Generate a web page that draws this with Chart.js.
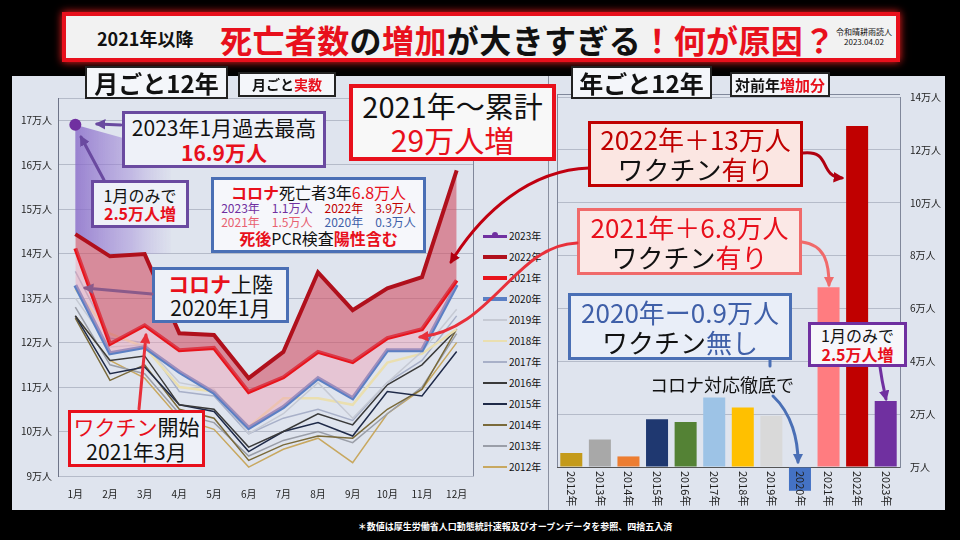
<!DOCTYPE html>
<html>
<head>
<meta charset="utf-8">
<script src="https://cdn.jsdelivr.net/npm/chart.js@4.4.0/dist/chart.umd.min.js"></script>
<style>
body{margin:0;background:#000;}
#wrap{position:relative;width:960px;height:540px;background:#000;overflow:hidden;font-family:"Noto Sans CJK JP","Noto Sans",sans-serif;color:#111;}
#panel{position:absolute;left:12px;top:76px;width:933px;height:434px;background:#dfe4ee;}
#sep{position:absolute;left:548px;top:76px;width:1px;height:434px;background:#8a90a0;}
canvas{position:absolute;}
.box{position:absolute;box-sizing:border-box;display:flex;flex-direction:column;justify-content:center;align-items:center;line-height:1.15;white-space:nowrap;background:#eef1f8;}
.r{color:#e8101c;}
.dr{color:#c00000;}
.bl{color:#3f5fa8;}
.pu{color:#7030a0;}
.b{font-weight:bold;}
#legend{position:absolute;left:483px;top:228px;font-size:10px;width:60px;}
#legend div{position:relative;height:21px;line-height:16px;white-space:nowrap;}
#legend i{position:absolute;left:0;top:8px;width:24px;}
#legend span{position:absolute;left:26px;top:0;white-space:nowrap;}
svg{position:absolute;left:0;top:0;}
</style>
</head>
<body>
<div id="wrap">
  <div id="panel"></div>
  <div id="sep"></div>
  <canvas id="c1" width="468" height="434" style="left:12px;top:76px"></canvas>
  <canvas id="c2" width="397" height="434" style="left:548px;top:76px"></canvas>
  <div id="legend"></div>

  <!-- title -->
  <div class="box" style="left:62px;top:12px;width:838px;height:50px;border:4px solid #e8101c;background:#f2f2f2;box-shadow:0 0 8px #ff2020;"></div>
  <div style="position:absolute;left:97px;top:25px;font-size:18px;font-weight:bold;">2021年以降</div>
  <div style="position:absolute;left:220px;top:16px;font-size:32px;font-weight:bold;letter-spacing:0.4px;"><span class="r">死亡者数</span>の<span class="r">増加</span>が大きすぎる<span class="r">！何が原因？</span></div>
  <div style="position:absolute;left:836px;top:27px;font-size:8px;line-height:10px;text-align:center;">令和晴耕雨読人<br>2023.04.02</div>

  <!-- headings -->
  <div class="box b" style="left:85px;top:66px;width:143px;height:33px;border:2px solid #222;background:#f4f6fa;font-size:24px;">月ごと12年</div>
  <div class="box b" style="left:238px;top:72px;width:98px;height:25px;border:2px solid #222;background:#f4f6fa;font-size:14px;"><span>月ごと<span class="r">実数</span></span></div>
  <div class="box b" style="left:571px;top:66px;width:141px;height:33px;border:2px solid #222;background:#f4f6fa;font-size:24px;">年ごと12年</div>
  <div class="box b" style="left:730px;top:72px;width:100px;height:25px;border:2px solid #222;background:#f4f6fa;font-size:15px;"><span>対前年<span class="r">増加分</span></span></div>

  <!-- left annotations -->
  <div class="box" style="left:122px;top:111px;width:204px;height:57px;border:3px solid #6a4aa0;font-size:21px;">
    <div>2023年1月過去最高</div><div class="r b">16.9万人</div></div>
  <div class="box" style="left:91px;top:180px;width:98px;height:48px;border:3px solid #6a4aa0;font-size:16px;">
    <div>1月のみで</div><div class="r b">2.5万人増</div></div>
  <div class="box" style="left:211px;top:177px;width:215px;height:76px;border:3px solid #4a6fb5;background:#f6f7fb;">
    <div style="font-size:16px;"><span class="r b">コロナ</span>死亡者3年<span class="r">6.8万人</span></div>
    <div style="font-size:12px;"><span class="pu">2023年　1.1万人</span>　<span class="dr">2022年　3.9万人</span></div>
    <div style="font-size:12px;"><span style="color:#e86070">2021年　1.5万人</span>　<span class="bl">2020年　0.3万人</span></div>
    <div style="font-size:16px;"><span class="r b">死後</span>PCR検査<span class="r b">陽性含む</span></div></div>
  <div class="box" style="left:349px;top:84px;width:207px;height:77px;border:4px solid #e8101c;background:#f8f8f8;">
    <div style="font-size:29px;">2021年〜累計</div><div class="r" style="font-size:30px;">29万人増</div></div>
  <div class="box" style="left:152px;top:267px;width:137px;height:56px;border:3px solid #4a6fb5;font-size:21px;">
    <div><span class="r b">コロナ</span>上陸</div><div>2020年1月</div></div>
  <div class="box" style="left:68px;top:410px;width:137px;height:57px;border:3px solid #e8101c;font-size:21px;">
    <div><span class="r">ワクチン</span>開始</div><div>2021年3月</div></div>

  <!-- right annotations -->
  <div class="box" style="left:588px;top:121px;width:215px;height:66px;border:3px solid #c00000;background:#fbe6e2;font-size:26px;">
    <div class="dr">2022年＋13万人</div><div>ワクチン<span class="dr">有り</span></div></div>
  <div class="box" style="left:577px;top:208px;width:225px;height:67px;border:3px solid #f06a6a;background:#fbe8e6;font-size:26px;">
    <div class="r">2021年＋6.8万人</div><div>ワクチン<span class="r">有り</span></div></div>
  <div class="box" style="left:568px;top:293px;width:224px;height:67px;border:3px solid #4a6fb5;background:#e9eef8;font-size:26px;">
    <div class="bl">2020年ー0.9万人</div><div>ワクチン<span class="bl">無し</span></div></div>
  <div style="position:absolute;left:650px;top:371px;font-size:18px;">コロナ対応徹底で</div>
  <div class="box" style="left:808px;top:322px;width:99px;height:45px;border:3px solid #7030a0;background:#f6f6fa;font-size:16px;">
    <div>1月のみで</div><div class="r b">2.5万人増</div></div>

  <div style="position:absolute;left:0;top:520px;width:960px;text-align:center;color:#fff;font-size:9px;font-weight:bold;padding-left:70px;box-sizing:border-box;">＊数値は厚生労働省人口動態統計速報及びオープンデータを参照、四捨五入済</div>

  <svg width="960" height="540">
    <defs>
      <marker id="mP" viewBox="0 0 10 10" refX="8" refY="5" markerWidth="3.5" markerHeight="3.5" orient="auto"><path d="M0,0L10,5L0,10z" fill="#6a4aa0"/></marker>
      <marker id="mM" viewBox="0 0 10 10" refX="8" refY="5" markerWidth="3.5" markerHeight="3.5" orient="auto"><path d="M0,0L10,5L0,10z" fill="#8a5a8a"/></marker>
      <marker id="mR" viewBox="0 0 10 10" refX="8" refY="5" markerWidth="3.5" markerHeight="3.5" orient="auto"><path d="M0,0L10,5L0,10z" fill="#e8303a"/></marker>
      <marker id="mD" viewBox="0 0 10 10" refX="8" refY="5" markerWidth="3.5" markerHeight="3.5" orient="auto"><path d="M0,0L10,5L0,10z" fill="#b00010"/></marker>
      <marker id="mK" viewBox="0 0 10 10" refX="8" refY="5" markerWidth="3.5" markerHeight="3.5" orient="auto"><path d="M0,0L10,5L0,10z" fill="#f06a6a"/></marker>
      <marker id="mB" viewBox="0 0 10 10" refX="8" refY="5" markerWidth="3.5" markerHeight="3.5" orient="auto"><path d="M0,0L10,5L0,10z" fill="#4a6fb5"/></marker>
      <marker id="mV" viewBox="0 0 10 10" refX="8" refY="5" markerWidth="3.5" markerHeight="3.5" orient="auto"><path d="M0,0L10,5L0,10z" fill="#7030a0"/></marker>
    </defs>
    <g fill="none" stroke-width="3" stroke-linecap="round">
      <path d="M121,125 L97,124" stroke="#6a4aa0" marker-end="url(#mP)"/>
      <path d="M104,180 L81,137" stroke="#6a4aa0" marker-end="url(#mP)"/>
      <path d="M152,294 L85,288" stroke="#8a5a8a" marker-end="url(#mM)"/>
      <path d="M139,409 L146,335" stroke="#e8303a" marker-end="url(#mR)"/>
      <path d="M589,168 C530,170 482,212 451,262" stroke="#c00010" marker-end="url(#mD)"/>
      <path d="M577,243 C515,245 492,330 420,337" stroke="#e8303a" marker-end="url(#mR)"/>
      <path d="M803,153 C832,150 818,176 842,178" stroke="#b00010" marker-end="url(#mD)"/>
      <path d="M802,242 C826,245 829,265 829,285" stroke="#f06a6a" marker-end="url(#mK)"/>
      <path d="M880,367 C882,382 884,390 886,399" stroke="#7030a0" marker-end="url(#mV)"/>
      <path d="M770,360 L770,366" stroke="#4a6fb5"/>
      <path d="M773,396 C792,414 798,440 798,462" stroke="#4a6fb5" marker-end="url(#mB)"/>
    </g>
  </svg>
</div>

<script>
// 月ごと死亡者数（万人）
const months = ['1月','2月','3月','4月','5月','6月','7月','8月','9月','10月','11月','12月'];
const lineYears = ['2023年','2022年','2021年','2020年','2019年','2018年','2017年','2016年','2015年','2014年','2013年','2012年'];
const deaths2023 = [16.9];
const deaths2022 = [14.44, 13.94, 13.99, 12.21, 12.17, 11.20, 11.79, 13.58, 12.73, 13.22, 13.47, 15.87];
const deaths2021 = [14.12, 11.97, 12.39, 11.83, 11.88, 10.89, 11.22, 11.79, 11.56, 12.10, 12.30, 13.40];
const deaths2020 = [13.29, 11.76, 11.90, 11.34, 10.87, 10.08, 10.55, 11.20, 10.75, 11.83, 11.83, 13.30];
const deaths2019 = [13.00, 11.90, 11.95, 11.10, 10.95, 9.95, 10.40, 11.10, 10.30, 11.10, 11.80, 12.75];
const deaths2018 = [13.20, 12.20, 11.90, 11.00, 10.90, 10.10, 10.75, 10.75, 10.60, 11.55, 11.75, 12.30];
const deaths2017 = [13.60, 12.10, 12.00, 10.90, 10.80, 9.95, 10.30, 10.50, 10.25, 11.10, 11.60, 12.60];
const deaths2016 = [12.60, 11.60, 11.70, 10.60, 10.50, 9.65, 10.00, 10.40, 10.15, 11.05, 11.50, 12.30];
const deaths2015 = [12.60, 11.30, 11.45, 10.60, 10.45, 9.55, 10.00, 10.20, 9.90, 10.90, 10.80, 11.80];
const deaths2014 = [12.55, 11.15, 11.50, 10.50, 10.30, 9.35, 9.70, 9.90, 9.85, 10.50, 10.95, 12.30];
const deaths2013 = [12.80, 11.50, 11.30, 10.40, 10.20, 9.45, 9.80, 10.00, 9.75, 10.40, 11.00, 12.20];
const deaths2012 = [12.60, 11.60, 11.20, 10.30, 10.05, 9.20, 9.60, 9.85, 9.30, 10.40, 10.95, 12.00];

// 年ごと対前年増加分（万人）
const barYears = ['2012年','2013年','2014年','2015年','2016年','2017年','2018年','2019年','2020年','2021年','2022年','2023年'];
const barValues = [0.53, 1.04, 0.40, 1.81, 1.70, 2.63, 2.25, 1.94, -0.90, 6.80, 12.90, 2.50];

const lineSeries = [deaths2023, deaths2022, deaths2021, deaths2020, deaths2019, deaths2018, deaths2017, deaths2016, deaths2015, deaths2014, deaths2013, deaths2012];
const lineColors = ['#7030a0','#b0101c','#e8141c','#5b7fc4','#c6cad4','#eadfb0','#a8b0c8','#3a3a3a','#1f2a48','#7a6a3a','#9a9ea8','#c8a860'];
const lineWidths = [3,4,4,4,1.5,2.5,1.5,1.5,1.5,1.5,1.5,1.5];
const barColors = ['#c49a1a','#a8a8a8','#ed7d31','#1f3870','#548235','#9dc3e6','#ffc000','#d9d9d9','#4472c4','#ff7c80','#c00000','#7030a0'];

const font = '"Noto Sans CJK JP", "Noto Sans", sans-serif';
Chart.defaults.font.family = font;

// legend
const lg = document.getElementById('legend');
lineYears.forEach((y, i) => {
  const d = document.createElement('div');
  const dot = i === 0 ? '<b style="position:absolute;left:9px;top:-2.5px;width:6px;height:6px;border-radius:3px;background:' + lineColors[i] + '"></b>' : '';
  d.innerHTML = '<i style="height:' + Math.max(1, lineWidths[i]) + 'px;background:' + lineColors[i] + ';margin-top:' + (-lineWidths[i] / 2) + 'px">' + dot + '</i><span>' + y + '</span>';
  lg.appendChild(d);
});

// 2023年1月の点からの紫の影
const glow = {
  id: 'glow',
  beforeDatasetsDraw(chart) {
    const ctx = chart.ctx, x = chart.scales.x, y = chart.scales.y;
    const x0 = x.getPixelForValue(0), x1 = x.getPixelForValue(2.75);
    const g = ctx.createLinearGradient(x0, 0, x1, 0);
    g.addColorStop(0, 'rgba(135,105,200,0.8)');
    g.addColorStop(0.6, 'rgba(160,135,215,0.45)');
    g.addColorStop(1, 'rgba(180,165,225,0.05)');
    ctx.save();
    ctx.fillStyle = g;
    ctx.beginPath();
    ctx.moveTo(x0, y.getPixelForValue(deaths2023[0]));
    ctx.lineTo(x1, y.getPixelForValue(deaths2023[0] - 0.6));
    ctx.lineTo(x1, y.getPixelForValue(deaths2022[2]));
    ctx.lineTo(x.getPixelForValue(2), y.getPixelForValue(deaths2022[2]));
    ctx.lineTo(x.getPixelForValue(1), y.getPixelForValue(deaths2022[1]));
    ctx.lineTo(x0, y.getPixelForValue(deaths2022[0]));
    ctx.closePath();
    ctx.fill();
    ctx.restore();
  }
};

const frame = {
  id: 'frame',
  afterDraw(chart, args, opts) {
    const ctx = chart.ctx, a = chart.chartArea;
    ctx.save();
    ctx.strokeStyle = '#80879a';
    ctx.lineWidth = 1;
    ctx.beginPath();
    if (opts.left) { ctx.moveTo(a.left + 0.5, a.top - 2); ctx.lineTo(a.left + 0.5, a.bottom); }
    if (opts.right) { ctx.moveTo(a.right - 0.5, a.top - 2); ctx.lineTo(a.right - 0.5, a.bottom); }
    if (opts.top) { ctx.moveTo(a.left, a.top - 2.5); ctx.lineTo(a.right, a.top - 2.5); }
    ctx.stroke();
    ctx.restore();
  }
};

const sideLabels = {
  id: 'sideLabels',
  afterDatasetsDraw(chart) {
    const ctx = chart.ctx, xs = chart.scales.x, a = chart.chartArea;
    ctx.save();
    ctx.font = '11px ' + font;
    ctx.fillStyle = '#222';
    ctx.textAlign = 'left';
    ctx.textBaseline = 'middle';
    barYears.forEach((t, i) => {
      ctx.save();
      ctx.translate(xs.getPixelForValue(i), a.bottom + 4);
      ctx.rotate(Math.PI / 2);
      ctx.fillText(t, 0, 0);
      ctx.restore();
    });
    ctx.restore();
  }
};

const fills = [false, '+1', '+1', false, false, false, false, false, false, false, false, false];
const fillColors = ['#7030a0', 'rgba(210,80,100,0.6)', 'rgba(240,160,180,0.45)', '#5b7fc4', 'transparent', 'transparent', 'transparent', 'transparent', 'transparent', 'transparent', 'transparent', 'transparent'];

new Chart(document.getElementById('c1'), {
  type: 'line',
  data: {
    labels: months,
    datasets: lineYears.map((y, i) => ({
      label: y,
      data: lineSeries[i],
      borderColor: lineColors[i],
      backgroundColor: fillColors[i],
      borderWidth: lineWidths[i],
      fill: fills[i],
      pointRadius: i === 0 ? 6 : 0,
      pointBackgroundColor: lineColors[i],
      pointBorderWidth: 0,
      tension: 0
    }))
  },
  options: {
    responsive: false,
    animation: false,
    layout: { padding: { top: 22, right: 0, left: 0, bottom: 0 } },
    plugins: { legend: { display: false }, tooltip: { enabled: false }, frame: { right: true } },
    scales: {
      x: {
        offset: true,
        grid: { display: false },
        border: { display: false },
        ticks: { color: '#222', font: { size: 10 }, padding: 4, maxRotation: 0 },
        afterFit: s => { s.height = 34; }
      },
      y: {
        min: 9, max: 17.5,
        ticks: { stepSize: 1, color: '#222', font: { size: 10 }, padding: 6, callback: v => Number.isInteger(v) ? v + '万人' : '' },
        grid: { color: '#b5bbc9', drawTicks: false },
        border: { color: '#6e7488' },
        afterFit: s => { s.width = 46; }
      }
    }
  },
  plugins: [glow, frame]
});

new Chart(document.getElementById('c2'), {
  type: 'bar',
  data: {
    labels: barYears,
    datasets: [{
      data: barValues,
      backgroundColor: barColors,
      borderWidth: 0,
      barPercentage: 0.77,
      categoryPercentage: 1,
      clip: false
    }]
  },
  options: {
    responsive: false,
    animation: false,
    layout: { padding: { top: 21, left: 9, right: 0, bottom: 0 } },
    plugins: { legend: { display: false }, tooltip: { enabled: false }, frame: { left: true, top: true } },
    scales: {
      x: {
        grid: { display: false },
        border: { display: false },
        ticks: { display: false },
        afterFit: s => { s.height = 43; }
      },
      y: {
        position: 'right',
        min: 0, max: 14,
        ticks: { stepSize: 2, color: '#222', font: { size: 10 }, padding: 10, callback: v => v === 0 ? '万人' : v + '万人' },
        grid: { color: c => c.tick && c.tick.value === 0 ? '#555' : '#b5bbc9', drawTicks: false },
        border: { color: '#80879a' },
        afterFit: s => { s.width = 45; }
      }
    }
  },
  plugins: [frame, sideLabels]
});
</script>
</body>
</html>
